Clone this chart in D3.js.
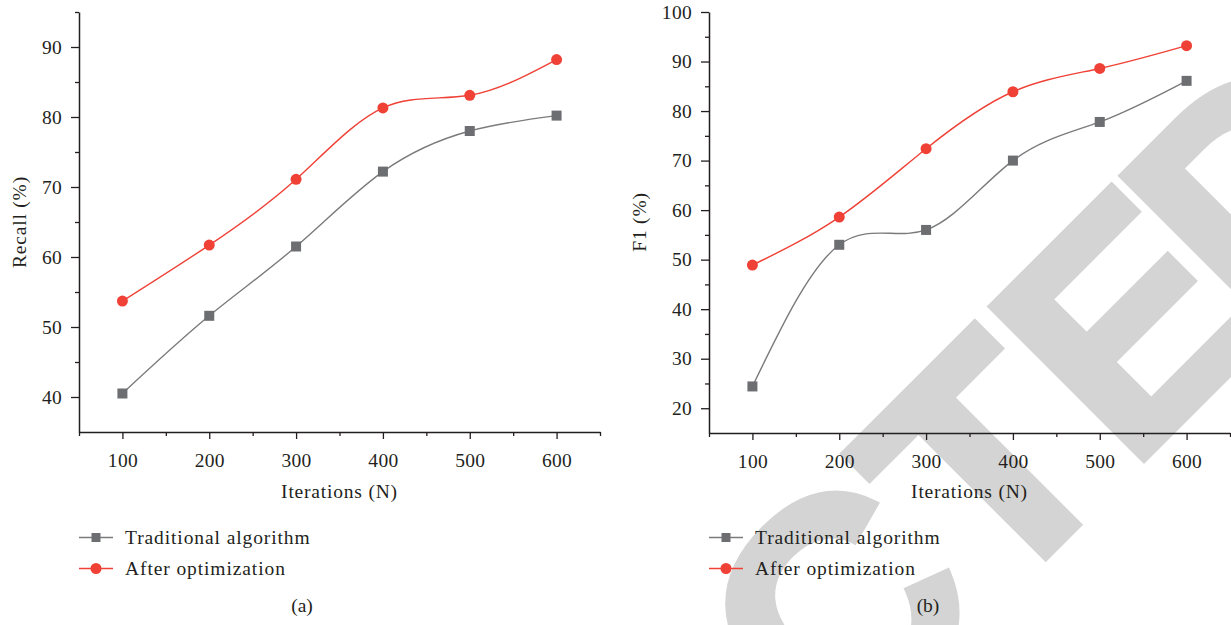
<!DOCTYPE html>
<html>
<head>
<meta charset="utf-8">
<script src="https://cdn.jsdelivr.net/npm/d3@7"></script>
<style>
  html, body { margin: 0; padding: 0; background: #fff; }
  svg { display: block; }
</style>
</head>
<body>
<svg id="chart" width="1231" height="625"></svg>
<script>
// ---------- data ----------
const iterations = [100, 200, 300, 400, 500, 600];
const seriesNames = ["Traditional algorithm", "After optimization"];
const recallTraditional = [40.5, 51.6, 61.5, 72.2, 78.0, 80.2];
const recallOptimized   = [53.7, 61.7, 71.1, 81.3, 83.1, 88.2];
const f1Traditional = [24.4, 53.0, 56.0, 70.0, 77.8, 86.1];
const f1Optimized   = [48.9, 58.6, 72.4, 83.9, 88.6, 93.2];
const recallTicks = [40, 50, 60, 70, 80, 90];
const f1Ticks = [20, 30, 40, 50, 60, 70, 80, 90, 100];
const xTicks = [100, 200, 300, 400, 500, 600];
const captions = ["(a)", "(b)"];
const axisTitles = { x: "Iterations (N)", recall: "Recall (%)", f1: "F1 (%)" };
const watermarkWord = ["RETRAC", "T", "E", "D"];

// ---------- style ----------
const ink = "#231f20";
const grayLine = "#7b7b7d";
const grayMark = "#6d6e71";
const red = "#ef4136";
const serif = "'Liberation Serif', 'Times New Roman', serif";

const svg = d3.select("#chart");

// ---------- watermark (behind everything) ----------
const wm = svg.append("g")
  .attr("transform", "translate(804,804) rotate(-45)")
  .attr("fill", "#d4d4d4")
  .attr("stroke", "#d4d4d4")
  .attr("stroke-width", 8)
  .attr("stroke-linejoin", "miter")
  .attr("font-family", "'Liberation Sans', Arial, sans-serif")
  .attr("font-weight", "bold")
  .attr("font-size", 312);
wm.append("text").attr("x", 273).attr("y", -4).attr("text-anchor", "end").text(watermarkWord[0]);
wm.append("text").attr("x", 273).attr("y", -4).text(watermarkWord[1]);
wm.append("text").attr("x", 464).attr("y", -4).text(watermarkWord[2]);
wm.append("text").attr("x", 649).attr("y", -4).text(watermarkWord[3]);

function panel(cfg) {
  const g = svg.append("g");
  const x = d3.scaleLinear().domain([50, 650]).range([cfg.left, cfg.right]);
  const y = d3.scaleLinear().domain(cfg.yDomain).range([cfg.bottom, cfg.top]);

  // x axis
  const xMinor = d3.range(50, 651, 50).filter(v => !xTicks.includes(v));
  g.append("g").attr("transform", `translate(0,${cfg.bottom})`)
    .call(d3.axisBottom(x).tickValues(xMinor).tickSize(4).tickSizeOuter(0).tickFormat(""))
    .call(a => a.select(".domain").remove())
    .call(a => a.selectAll("line").attr("stroke", ink).attr("stroke-width", 1.3));
  const xa = g.append("g").attr("transform", `translate(0,${cfg.bottom})`)
    .call(d3.axisBottom(x).tickValues(xTicks).tickSize(7).tickSizeOuter(0).tickPadding(14));
  xa.select(".domain").attr("stroke", ink).attr("stroke-width", 1.5);
  xa.selectAll("line").attr("stroke", ink).attr("stroke-width", 1.3);
  xa.selectAll("text").attr("font-family", serif).attr("font-size", 19.5)
    .attr("letter-spacing", 0.3).attr("fill", ink);

  // y axis
  const [d0, d1] = cfg.yDomain;
  const yMinor = d3.range(d0, d1 + 0.1, 5).filter(v => !cfg.yTicks.includes(v) && v !== d0);
  g.append("g").attr("transform", `translate(${cfg.left},0)`)
    .call(d3.axisLeft(y).tickValues(yMinor).tickSize(4).tickSizeOuter(0).tickFormat(""))
    .call(a => a.select(".domain").remove())
    .call(a => a.selectAll("line").attr("stroke", ink).attr("stroke-width", 1.3));
  const ya = g.append("g").attr("transform", `translate(${cfg.left},0)`)
    .call(d3.axisLeft(y).tickValues(cfg.yTicks).tickSize(8).tickSizeOuter(0).tickPadding(9));
  ya.select(".domain").attr("stroke", ink).attr("stroke-width", 1.5);
  ya.selectAll("line").attr("stroke", ink).attr("stroke-width", 1.3);
  ya.selectAll("text").attr("font-family", serif).attr("font-size", 19.5)
    .attr("letter-spacing", 0.3).attr("fill", ink);

  // axis titles
  g.append("text").attr("x", (cfg.left + cfg.right) / 2).attr("y", 498)
    .attr("text-anchor", "middle").attr("font-family", serif).attr("font-size", 19.5)
    .attr("letter-spacing", 0.8).attr("fill", ink).text(axisTitles.x);
  g.append("text")
    .attr("transform", `translate(${cfg.yTitleX},222) rotate(-90)`)
    .attr("text-anchor", "middle").attr("font-family", serif).attr("font-size", 19.5)
    .attr("letter-spacing", 0.8).attr("fill", ink).text(cfg.yTitle);

  // lines
  const line = d3.line().x((d, i) => x(iterations[i])).y(d => y(d)).curve(d3.curveNatural);
  g.append("path").datum(cfg.trad).attr("d", line).attr("fill", "none")
    .attr("stroke", grayLine).attr("stroke-width", 1.4);
  g.append("path").datum(cfg.opt).attr("d", line).attr("fill", "none")
    .attr("stroke", red).attr("stroke-width", 1.4);
  g.selectAll(null).data(cfg.trad).join("rect")
    .attr("x", (d, i) => x(iterations[i]) - 5).attr("y", d => y(d) - 5)
    .attr("width", 10).attr("height", 10).attr("fill", grayMark);
  g.selectAll(null).data(cfg.opt).join("circle")
    .attr("cx", (d, i) => x(iterations[i])).attr("cy", d => y(d))
    .attr("r", 5.5).attr("fill", red);

  // legend
  const lx = cfg.left;
  const rows = [537.5, 568.5];
  const lg = g.append("g");
  lg.append("line").attr("x1", lx).attr("x2", lx + 34).attr("y1", rows[0]).attr("y2", rows[0])
    .attr("stroke", grayLine).attr("stroke-width", 1.4);
  lg.append("rect").attr("x", lx + 17 - 4.5).attr("y", rows[0] - 4.5).attr("width", 9).attr("height", 9)
    .attr("fill", grayMark);
  lg.append("line").attr("x1", lx).attr("x2", lx + 34).attr("y1", rows[1]).attr("y2", rows[1])
    .attr("stroke", red).attr("stroke-width", 1.4);
  lg.append("circle").attr("cx", lx + 17).attr("cy", rows[1]).attr("r", 5.5).attr("fill", red);
  seriesNames.forEach((name, i) => {
    lg.append("text").attr("x", lx + 46).attr("y", rows[i] + 6.5)
      .attr("font-family", serif).attr("font-size", 19.5).attr("letter-spacing", 0.9)
      .attr("fill", ink).text(name);
  });

  // caption
  g.append("text").attr("x", cfg.captionX).attr("y", 612).attr("text-anchor", "middle")
    .attr("font-family", serif).attr("font-size", 19.5).attr("fill", ink).text(cfg.caption);
}

panel({
  left: 79, right: 600, top: 12, bottom: 432,
  yDomain: [35, 95], yTicks: recallTicks, yTitle: axisTitles.recall, yTitleX: 26,
  trad: recallTraditional, opt: recallOptimized, caption: captions[0], captionX: 302
});
panel({
  left: 709, right: 1230, top: 12, bottom: 433,
  yDomain: [15, 100], yTicks: f1Ticks, yTitle: axisTitles.f1, yTitleX: 646,
  trad: f1Traditional, opt: f1Optimized, caption: captions[1], captionX: 928
});
</script>
</body>
</html>
